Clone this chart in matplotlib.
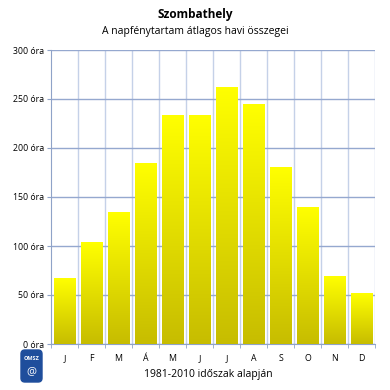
import numpy as np
import matplotlib.pyplot as plt
from matplotlib.patches import FancyBboxPatch

plt.rcParams['font.family'] = ['Open Sans', 'DejaVu Sans']

# adatok (napfénytartam, óra)
honapok = ["J", "F", "M", "Á", "M", "J", "J", "A", "S", "O", "N", "D"]
napfeny = [67, 104, 134, 184, 233, 233, 262, 244, 180, 139, 69, 52]
y_ticks = [0, 50, 100, 150, 200, 250, 300]

fig = plt.figure(figsize=(3.9, 3.9), dpi=100)
ax = fig.add_axes([51/390, 46/390, 324/390, 294/390])

x = np.arange(len(honapok))
bars = ax.bar(x, napfeny, width=0.8, color='none', edgecolor='none', zorder=3)

# színátmenet a oszlopokon
grad = np.linspace(0, 1, 256).reshape(-1, 1)
top = np.array([1.0, 1.0, 0.0])
bot = np.array([0.78, 0.74, 0.0])
img = bot + (top - bot) * grad[..., None]
for b in bars:
    bx, by = b.get_x(), b.get_y()
    w, h = b.get_width(), b.get_height()
    im = ax.imshow(img, extent=[bx, bx + w, by, by + h], origin='lower',
                   aspect='auto', zorder=3)

ax.set_xlim(-0.5, 11.5)
ax.set_ylim(0, 300)
ax.set_yticks(y_ticks)
ax.set_yticklabels([f"{v} óra" for v in y_ticks], fontsize=6.3)
ax.set_xticks(x)
ax.set_xticklabels(honapok, fontsize=6.3)
ax.set_xticks(np.arange(-0.5, 12, 1), minor=True)
ax.tick_params(axis='x', which='major', length=0, pad=7)
ax.tick_params(axis='x', which='minor', length=3, color='#8FA3C8')
ax.tick_params(axis='y', length=3, color='#8FA3C8', pad=2)

ax.grid(axis='y', color='#95A8CF', linewidth=1.0, zorder=1)
for xv in np.arange(0.5, 12, 1):
    ax.axvline(xv, color='#C5D1E8', linewidth=1.0, zorder=1)

for s in ['top', 'right']:
    ax.spines[s].set_visible(False)
ax.spines['left'].set_color('#8FA3C8')
ax.spines['bottom'].set_color('#8FA3C8')

fig.text(0.5, 0.962, "Szombathely", ha='center', va='center',
         fontsize=8.5, fontweight='bold')
fig.text(0.5, 0.918, "A napfénytartam átlagos havi összegei", ha='center',
         va='center', fontsize=7.5)
fig.text(0.535, 0.04, "1981-2010 időszak alapján", ha='center',
         va='center', fontsize=7.5)

# OMSZ logó (egyszerűsítve)
logo = FancyBboxPatch((21/390, 8/390), 21/390, 32/390,
                      boxstyle="round,pad=0,rounding_size=0.01",
                      transform=fig.transFigure, facecolor='#1F4E9C',
                      edgecolor='#1F4E9C')
fig.patches.append(logo)
fig.text(31.5/390, 32/390, "OMSZ", color='white', ha='center', va='center',
         fontsize=4, fontweight='bold')
fig.text(31.5/390, 18/390, "@", color='white', ha='center', va='center',
         fontsize=8)

fig.savefig("out.png", dpi=100)
